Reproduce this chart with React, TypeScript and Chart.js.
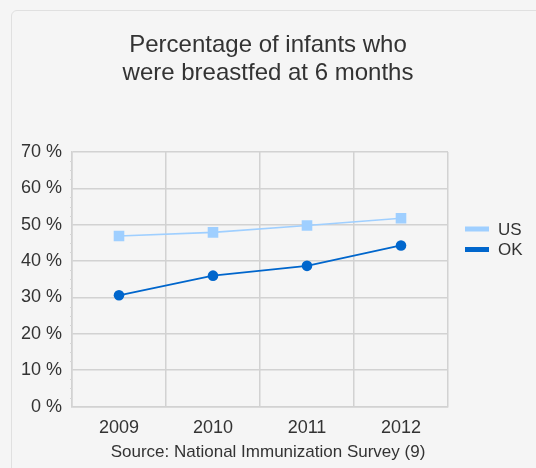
import { useEffect, useRef } from 'react';
import { Chart, registerables } from 'chart.js';

Chart.register(...registerables);

const years = ['2009', '2010', '2011', '2012'];
const usValues = [46.9, 47.9, 49.8, 51.8];
const okValues = [30.6, 36.0, 38.7, 44.3];
const seriesNames = ['US', 'OK'];
const titleLines = ['Percentage of infants who', 'were breastfed at 6 months'];
const sourceText = 'Source: National Immunization Survey (9)';
const yMin = 0;
const yMax = 70;
const yStep = 10;
const yMinorStep = 2.5;

const FONT = '"Liberation Sans", Arial, sans-serif';
const TEXT = '#333333';
const GRID = '#d2d2d2';

const minorTicksPlugin = {
  id: 'minorTicks',
  afterDatasetsDraw(chart: any) {
    const y = chart.scales.y;
    const ctx = chart.ctx;
    const left = chart.chartArea.left;
    ctx.save();
    ctx.strokeStyle = '#d6d6d6';
    ctx.lineWidth = 1;
    for (let v = yMin; v <= yMax; v += yMinorStep) {
      if (Math.abs(v % yStep) < 1e-6) continue;
      const py = Math.round(y.getPixelForValue(v)) + 0.5;
      ctx.beginPath();
      ctx.moveTo(left - 2, py);
      ctx.lineTo(left, py);
      ctx.stroke();
    }
    ctx.restore();
  },
};

const sideLegendPlugin = {
  id: 'sideLegend',
  afterDraw(chart: any) {
    const ctx = chart.ctx;
    const area = chart.chartArea;
    ctx.save();
    ctx.font = `17px ${FONT}`;
    ctx.textBaseline = 'middle';
    ctx.textAlign = 'left';
    chart.data.datasets.forEach((ds: any, i: number) => {
      const cy = area.top + 77 + i * 20.5;
      ctx.fillStyle = ds.borderColor;
      ctx.fillRect(area.right + 17, cy - 2.5, 24, 5);
      ctx.fillStyle = TEXT;
      ctx.fillText(ds.label, area.right + 50, cy + 1);
    });
    ctx.restore();
  },
};

export default function App() {
  const canvasRef = useRef<HTMLCanvasElement | null>(null);

  useEffect(() => {
    if (!canvasRef.current) return;
    const chart = new Chart(canvasRef.current, {
      type: 'line',
      data: {
        labels: years,
        datasets: [
          {
            label: seriesNames[0],
            data: usValues,
            borderColor: '#9fcfff',
            backgroundColor: '#9fcfff',
            borderWidth: 1.6,
            pointStyle: 'rect',
            pointRadius: 7.5,
            pointBorderWidth: 0,
            pointHoverRadius: 7.5,
            yAxisID: 'y',
          },
          {
            label: seriesNames[1],
            data: okValues,
            borderColor: '#0066cc',
            backgroundColor: '#0066cc',
            borderWidth: 1.8,
            pointStyle: 'circle',
            pointRadius: 5.3,
            pointBorderWidth: 0,
            pointHoverRadius: 5.3,
            yAxisID: 'y',
          },
        ],
      },
      options: {
        animation: false,
        responsive: false,
        maintainAspectRatio: false,
        layout: { padding: 0 },
        font: { family: FONT },
        plugins: {
          legend: { display: false },
          tooltip: { enabled: false },
          title: {
            display: true,
            text: titleLines,
            color: TEXT,
            font: { family: FONT, size: 24, weight: 'normal', lineHeight: 28 / 24 },
            padding: { top: 31, bottom: 65 },
          },
          subtitle: {
            display: true,
            position: 'bottom',
            text: sourceText,
            color: TEXT,
            font: { family: FONT, size: 17, weight: 'normal', lineHeight: 1.2 },
            padding: { top: 4, bottom: 5 },
          },
        },
        scales: {
          x: {
            type: 'category',
            offset: true,
            grid: { color: GRID, lineWidth: 1.5, drawTicks: false, offset: true },
            border: { color: GRID, width: 1.5 },
            ticks: { color: TEXT, font: { family: FONT, size: 18 }, padding: 11 },
            afterFit: (scale: any) => {
              scale.height = 32;
            },
          },
          y: {
            type: 'linear',
            min: yMin,
            max: yMax,
            grid: { color: GRID, lineWidth: 1.5, drawTicks: false },
            border: { color: GRID, width: 1.5 },
            ticks: {
              stepSize: yStep,
              color: TEXT,
              font: { family: FONT, size: 18 },
              padding: 10,
              callback: (v: any) => `${v} %`,
            },
            afterFit: (scale: any) => {
              scale.width = 72;
            },
          },
          yRight: {
            type: 'linear',
            position: 'right',
            display: true,
            min: yMin,
            max: yMax,
            grid: { display: false, drawTicks: false },
            border: { display: false },
            ticks: { display: false },
            afterFit: (scale: any) => {
              scale.width = 88;
            },
          },
        },
      },
      plugins: [minorTicksPlugin, sideLegendPlugin],
    });
    return () => chart.destroy();
  }, []);

  return (
    <div
      style={{
        position: 'fixed',
        left: 0,
        top: 0,
        width: 536,
        height: 468,
        background: '#f5f5f5',
        overflow: 'hidden',
      }}
    >
      <div
        style={{
          position: 'absolute',
          left: 11,
          top: 9.5,
          width: 620,
          height: 560,
          border: '1.5px solid #e0e0e0',
          borderRadius: 6,
          boxSizing: 'border-box',
        }}
      />
      <canvas
        ref={canvasRef}
        width={536}
        height={468}
        style={{ position: 'absolute', left: 0, top: 0, width: 536, height: 468 }}
      />
    </div>
  );
}
